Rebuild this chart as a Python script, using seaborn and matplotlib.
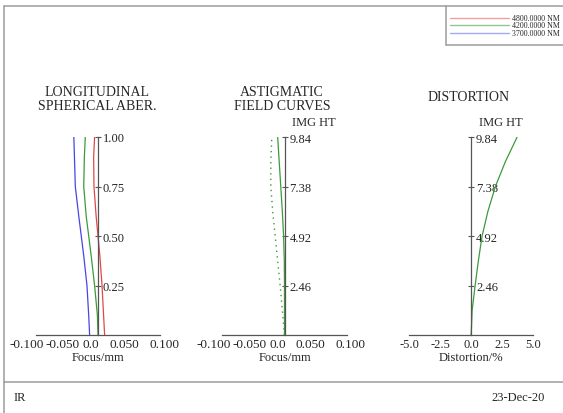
import numpy as np
import pandas as pd
import matplotlib
matplotlib.use("Agg")
import matplotlib.pyplot as plt
import matplotlib.transforms as mtransforms
import seaborn as sns
from matplotlib.lines import Line2D

sns.set_theme(style="white")
plt.rcParams["font.family"] = ["Liberation Serif", "DejaVu Serif"]

W, H = 563, 414

# ---- data ----
wavelengths = ["4800.0000 NM", "4200.0000 NM", "3700.0000 NM"]
wl_colors = ["#e04848", "#3c9a3c", "#4646e6"]
legend_colors = ["#f2a0a0", "#92c592", "#a6a6f6"]

# longitudinal spherical aberration (normalised pupil vs focus, mm)
pupil = [0.0, 0.1, 0.25, 0.4, 0.5, 0.6, 0.75, 0.9, 1.0]
lsa_4800 = [0.0107, 0.009, 0.0065, 0.003, 0.0, -0.003, -0.0065, -0.007, -0.0055]
lsa_4200 = [0.0, -0.001, -0.0055, -0.011, -0.015, -0.019, -0.023, -0.022, -0.0205]
lsa_3700 = [-0.0135, -0.015, -0.0178, -0.023, -0.027, -0.031, -0.0366, -0.038, -0.039]

# astigmatic field curves (image height vs focus, mm)
img_ht = [0.0, 1.23, 2.46, 3.69, 4.92, 6.15, 7.38, 8.61, 9.84]
sag_4200 = [0.0, 0.0, 0.0, -0.0003, -0.0015, -0.0035, -0.006, -0.0085, -0.011]
tan_4200 = [0.0, -0.0035, -0.007, -0.011, -0.015, -0.019, -0.022, -0.022, -0.0204]

# distortion (image height vs %)
dist_4200 = [0.0, 0.08, 0.32, 0.58, 0.88, 1.35, 1.95, 2.75, 3.7]

pupil_ticks = [0.25, 0.50, 0.75, 1.00]
pupil_labels = ["0.25", "0.50", "0.75", "1.00"]
ht_ticks = [2.46, 4.92, 7.38, 9.84]
ht_labels = ["2.46", "4.92", "7.38", "9.84"]
focus_ticks = [-0.1, -0.05, 0.0, 0.05, 0.1]
focus_labels = ["-0.100", "-0.050", "0.0", "0.050", "0.100"]
dist_ticks = [-5.0, -2.5, 0.0, 2.5, 5.0]
dist_labels = ["-5.0", "-2.5", "0.0", "2.5", "5.0"]

AX_COLOR = "#555555"
FRAME = "#9c9c9c"
FS = 9


def fx(x):
    return x / W


def fy(y):
    return 1 - y / H


fig = plt.figure(figsize=(W / 100, H / 100), dpi=100)
fig.patch.set_facecolor("white")


def make_axes(x0, x1, xlim, ylim, yticks, ylabels, xticks, xlabels, xfs):
    ax = fig.add_axes([fx(x0), fy(336), fx(x1 - x0), (336 - 138) / H])
    ax.set_facecolor("none")
    ax.set_xlim(*xlim)
    ax.set_ylim(*ylim)
    for s in ["top", "left"]:
        ax.spines[s].set_visible(False)
    ax.spines["bottom"].set_color(AX_COLOR)
    ax.spines["right"].set_color(AX_COLOR)
    ax.spines["bottom"].set_linewidth(0.9)
    ax.spines["right"].set_linewidth(0.9)
    ax.spines["right"].set_position(("data", 0))
    ax.yaxis.tick_right()
    ax.set_yticks(yticks)
    ax.set_yticklabels(ylabels)
    ax.set_xticks(xticks)
    ax.set_xticklabels(xlabels)
    ax.tick_params(axis="y", direction="inout", length=5, width=0.8,
                   color=AX_COLOR, labelsize=FS, pad=1)
    ax.tick_params(axis="x", direction="in", length=4, width=0.8,
                   color=AX_COLOR, labelsize=xfs, pad=2)
    ax.grid(False)
    return ax


def shift_focus_labels(ax):
    # the focus labels sit unevenly under their ticks in the reference
    offsets = [-9, -4, -7, -5, 4]
    for lab, dx in zip(ax.get_xticklabels(), offsets):
        lab.set_transform(lab.get_transform() + mtransforms.ScaledTranslation(
            dx / 100, 0, fig.dpi_scale_trans))


# ---- panel 1: longitudinal spherical aberration ----
ax1 = make_axes(36, 160, (-0.1, 0.1), (0, 1.0), pupil_ticks, pupil_labels,
                focus_ticks, focus_labels, 9.5)
for vals, c in zip([lsa_4800, lsa_4200, lsa_3700], wl_colors):
    df = pd.DataFrame({"focus": vals, "pupil": pupil})
    sns.lineplot(data=df, x="focus", y="pupil", sort=False, estimator=None,
                 color=c, lw=0.9, ax=ax1)
ax1.set_xlabel("Focus/mm", fontsize=FS, labelpad=1)
ax1.set_ylabel("")
shift_focus_labels(ax1)

# ---- panel 2: astigmatic field curves ----
ax2 = make_axes(222.3, 346.7, (-0.1, 0.1), (0, 9.84), ht_ticks, ht_labels,
                focus_ticks, focus_labels, 9.5)
df_s = pd.DataFrame({"focus": sag_4200, "ht": img_ht})
df_t = pd.DataFrame({"focus": tan_4200, "ht": img_ht})
sns.lineplot(data=df_s, x="focus", y="ht", sort=False, estimator=None,
             color=wl_colors[1], lw=0.9, ax=ax2)
sns.lineplot(data=df_t, x="focus", y="ht", sort=False, estimator=None,
             color=wl_colors[1], lw=1.0, ax=ax2)
ax2.lines[-1].set_dashes([1, 3])
ax2.set_xlabel("Focus/mm", fontsize=FS, labelpad=1)
ax2.set_ylabel("")
shift_focus_labels(ax2)

# ---- panel 3: distortion ----
ax3 = make_axes(409, 533.3, (-5, 5), (0, 9.84), ht_ticks, ht_labels,
                dist_ticks, dist_labels, FS)
df_d = pd.DataFrame({"dist": dist_4200, "ht": img_ht})
sns.lineplot(data=df_d, x="dist", y="ht", sort=False, estimator=None,
             color=wl_colors[1], lw=0.9, ax=ax3)
ax3.set_xlabel("Distortion/%", fontsize=FS, labelpad=1)
ax3.set_ylabel("")

# ---- titles ----
fig.text(fx(97), fy(92), "LONGITUDINAL", ha="center", va="center", fontsize=10)
fig.text(fx(97), fy(107), "SPHERICAL ABER.", ha="center", va="center", fontsize=10)
fig.text(fx(282), fy(92), "ASTIGMATIC", ha="center", va="center", fontsize=10)
fig.text(fx(282), fy(107), "FIELD CURVES", ha="center", va="center", fontsize=10)
fig.text(fx(314), fy(123), "IMG HT", ha="center", va="center", fontsize=FS)
fig.text(fx(469), fy(98), "DISTORTION", ha="center", va="center", fontsize=10)
fig.text(fx(501), fy(123), "IMG HT", ha="center", va="center", fontsize=FS)

# ---- frame ----
frame_lines = [
    ((4, 4), (7, 414)),
    ((4, 563), (7, 7)),
    ((4, 563), (383, 383)),
    ((446, 446), (7, 46)),
    ((446, 563), (46, 46)),
]
for xs, ys in frame_lines:
    fig.add_artist(Line2D([fx(x) for x in xs], [fy(y) for y in ys],
                          color=FRAME, lw=1.1))

# ---- legend ----
for i, (lab, c) in enumerate(zip(wavelengths, legend_colors)):
    y = 19 + i * 7.3
    fig.add_artist(Line2D([fx(450), fx(509)], [fy(y), fy(y)], color=c, lw=1.0))
    fig.text(fx(560), fy(y), lab, ha="right", va="center", fontsize=5.7)

# ---- footer ----
fig.text(fx(14), fy(398), "IR", ha="left", va="center", fontsize=FS)
fig.text(fx(545), fy(398), "23-Dec-20", ha="right", va="center", fontsize=FS)

fig.savefig("out.png", dpi=100, facecolor="white")
